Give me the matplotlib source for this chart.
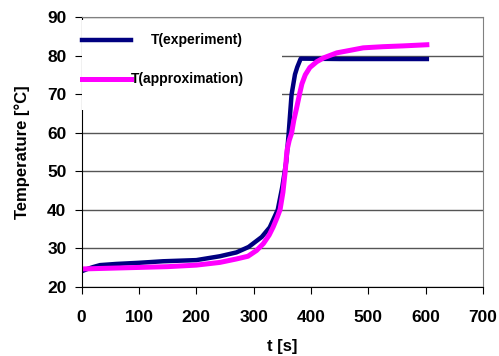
import matplotlib
matplotlib.use("Agg")
import matplotlib.pyplot as plt
from matplotlib.patches import Rectangle

t_exp = [0, 5, 10, 20, 32, 60, 100, 142, 200, 241, 270, 291, 314, 328, 342,
         350, 357, 361, 366, 372, 376, 382, 450, 530, 602]
T_exp = [24.0, 24.3, 24.6, 25.1, 25.6, 25.9, 26.2, 26.6, 26.9, 27.9, 28.9,
         30.3, 32.9, 35.4, 40.0, 46.0, 52.7, 59.8, 69.8, 75.1, 77.0, 79.2,
         79.1, 79.1, 79.1]

# approximation curve
t_apx = [0, 50, 100, 150, 200, 241, 270, 290, 305, 317, 327, 334, 341, 346,
         351, 355, 358, 362, 366, 370, 375, 380, 384, 390, 398, 410, 422,
         445, 470, 491, 526, 560, 602]
T_apx = [24.6, 24.8, 25.0, 25.2, 25.6, 26.3, 27.2, 27.9, 29.4, 31.2, 33.4,
         35.5, 38.0, 40.0, 44.5, 50.0, 55.3, 58.0, 59.8, 63.2, 66.5, 70.0,
         72.6, 75.0, 76.9, 78.4, 79.4, 80.7, 81.4, 82.0, 82.3, 82.5, 82.8]

label_exp = "T(experiment)"
label_apx = "T(approximation)"

navy = "#000080"
magenta = "#ff00ff"

fig = plt.figure(figsize=(4.99, 3.56), dpi=100)
ax = fig.add_axes([0.1637, 0.1947, 0.8043, 0.7575])

ax.plot(t_exp, T_exp, color=navy, lw=3.2, solid_joinstyle="round", zorder=2)
ax.plot(t_apx, T_apx, color=magenta, lw=3.6, solid_joinstyle="round", zorder=2.2)

ax.set_xlim(0, 700)
ax.set_ylim(20, 90)
ax.set_xticks(range(0, 701, 100))
ax.set_yticks(range(20, 91, 10))
ax.yaxis.grid(True, color="#555555", lw=1.0)
ax.set_axisbelow(True)

for side in ["top", "right"]:
    ax.spines[side].set_color("#808080")
ax.spines["left"].set_color("black")
ax.spines["bottom"].set_color("black")
ax.tick_params(direction="out", length=5, width=0.8, labelsize=12.5)
ax.tick_params(axis="x", pad=12)
ax.tick_params(axis="y", pad=6)
for lab in ax.get_xticklabels() + ax.get_yticklabels():
    lab.set_fontweight("bold")
    lab.set_fontfamily("Liberation Sans")

ax.set_xlabel("t [s]", fontsize=12, fontweight="bold",
              family="Liberation Sans", labelpad=10)
ax.set_ylabel("Temperature [°C]", fontsize=12, fontweight="bold",
              family="Liberation Sans", labelpad=12)

# legend box drawn like the original (white, no frame)
ax.add_patch(Rectangle((0.0, 0.655), 0.499, 0.334, transform=ax.transAxes,
                       facecolor="white", edgecolor="none", clip_on=False,
                       zorder=3))
ax.plot([0, 0.123], [0.915, 0.915], color=navy, lw=3.2,
        transform=ax.transAxes, clip_on=False, zorder=4)
ax.plot([0, 0.123], [0.770, 0.770], color=magenta, lw=3.6,
        transform=ax.transAxes, clip_on=False, zorder=4)
ax.text(0.173, 0.915, label_exp, transform=ax.transAxes, va="center",
        fontsize=10, fontweight="bold", family="Liberation Sans", zorder=5)
ax.text(0.123, 0.770, label_apx, transform=ax.transAxes, va="center",
        fontsize=10, fontweight="bold", family="Liberation Sans", zorder=5)

fig.savefig("out.png", dpi=100)
